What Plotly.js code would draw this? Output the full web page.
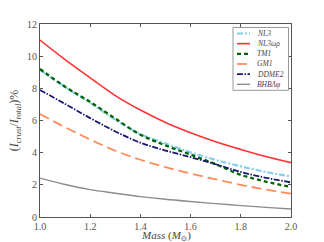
<!DOCTYPE html>
<html><head><meta charset="utf-8">
<script src="https://cdn.plot.ly/plotly-3.0.1.min.js"></script>
<style>html,body{margin:0;padding:0;background:#fff}#c{width:324px;height:242px}</style>
</head><body><div id="c"></div>
<script>
const mass = [1.0, 1.1, 1.2, 1.3, 1.4, 1.5, 1.6, 1.7, 1.8, 1.9, 2.0];
const nl3 = [9.15, 8.08, 7.1, 6.05, 5.15, 4.57, 4.02, 3.55, 3.15, 2.8, 2.52];
const nl3wr = [11.0, 9.78, 8.65, 7.55, 6.65, 5.88, 5.24, 4.68, 4.2, 3.76, 3.38];
const tm1 = [9.2, 8.1, 7.15, 6.12, 5.12, 4.45, 3.88, 3.28, 2.62, 2.2, 1.86];
const gm1 = [6.4, 5.58, 4.82, 4.12, 3.56, 3.1, 2.7, 2.34, 2.0, 1.7, 1.45];
const ddme2 = [7.9, 7.03, 6.15, 5.32, 4.62, 4.13, 3.72, 3.28, 2.8, 2.44, 2.15];
const bhb = [2.42, 2.02, 1.7, 1.48, 1.27, 1.1, 0.96, 0.83, 0.71, 0.6, 0.5];
const names = ["NL3", "NL3ωρ", "TM1", "GM1", "DDME2", "BHBΛφ"];

const serif = "Liberation Serif, DejaVu Serif, serif";
const colors = ["#87CEEB", "#FF3333", "#006400", "#FF8C5A", "#191970", "#8C8C8C"];
const dashes = ["6px,2px,2px,2px", "solid", "4px,3px", "10px,5px", "6px,1.5px,1.5px,1.5px", "solid"];
const widths = [2.2, 1.6, 2.3, 1.8, 1.8, 1.4];
const series = [nl3, nl3wr, tm1, gm1, ddme2, bhb];

const data = series.map((y, i) => ({
  x: mass, y: y, name: names[i], type: "scatter", mode: "lines", showlegend: false,
  line: {color: colors[i], dash: dashes[i], width: widths[i], shape: "spline", smoothing: 1}
}));

// custom compact legend (paper coordinates)
const L = 40, R = 291, T = 24, B = 217.5;
const px = v => (v - L) / (R - L);
const py = v => (B - v) / (B - T);
const shapes = [{type: "rect", xref: "paper", yref: "paper", x0: px(233), x1: px(288.5), y0: py(90.5), y1: py(27.5),
  line: {color: "#999", width: 1}, fillcolor: "#fff", layer: "above"}];
const annotations = [];
names.forEach((n, i) => {
  const yy = 33.5 + i * 10.2;
  shapes.push({type: "line", xref: "paper", yref: "paper", x0: px(237), x1: px(250), y0: py(yy), y1: py(yy),
    line: {color: colors[i], width: widths[i], dash: dashes[i]}, layer: "above"});
  annotations.push({xref: "paper", yref: "paper", x: px(255), y: py(yy), xanchor: "left", yanchor: "middle",
    text: "<i>" + n + "</i>", showarrow: false, font: {family: serif, size: 7.5, color: "#444"}});
});
// x-axis title as an annotation placed below the tick labels
annotations.push({xref: "paper", yref: "paper", x: 0.5, y: py(236.6), xanchor: "center", yanchor: "middle",
  text: "<i>Mass</i> (<i>M</i><sub>⊙</sub>)", showarrow: false, borderpad: 0,
  font: {family: serif, size: 11, color: "#444"}});

const axis = {
  showline: true, linecolor: "#555", linewidth: 1, mirror: "ticks",
  ticks: "inside", ticklen: 3, tickcolor: "#555", showgrid: false, zeroline: false,
  tickfont: {family: serif, size: 10, color: "#555"}
};
const layout = {
  width: 324, height: 242,
  margin: {l: 40, r: 33, t: 24, b: 24.5},
  paper_bgcolor: "#fff", plot_bgcolor: "#fff",
  showlegend: false, shapes: shapes, annotations: annotations,
  xaxis: Object.assign({}, axis, {range: [1.0, 2.0], dtick: 0.2, tick0: 1.0, tickformat: ".1f"}),
  yaxis: Object.assign({}, axis, {range: [0, 12], dtick: 2,
    title: {text: "(<i>I</i><sub><i>crust</i></sub>/<i>I</i><sub><i>total</i></sub>)%", standoff: 5, font: {family: serif, size: 12, color: "#444"}}})
};
Plotly.newPlot("c", data, layout, {displayModeBar: false, staticPlot: true});
</script></body></html>
